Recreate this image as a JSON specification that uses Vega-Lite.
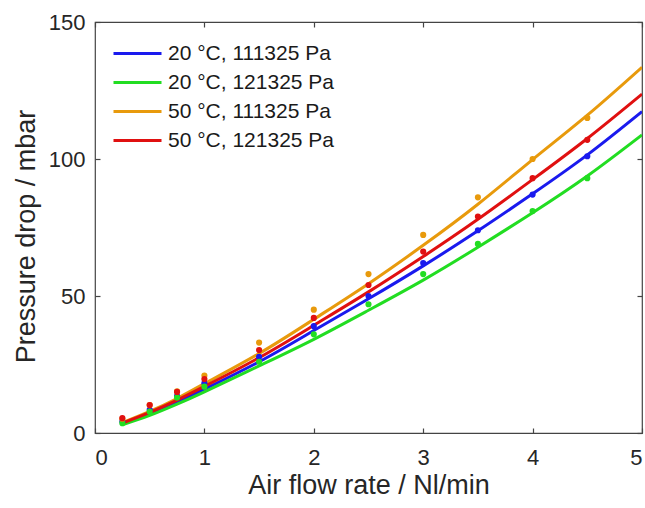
{
  "$schema": "https://vega.github.io/schema/vega-lite/v6.json",
  "width": 547,
  "height": 411,
  "autosize": {"type": "none"},
  "padding": {"left": 95, "top": 22, "right": 3, "bottom": 75},
  "background": "white",
  "config": {
    "font": "Liberation Sans",
    "view": {"stroke": "#444444", "strokeWidth": 1.2},
    "axis": {
      "domain": false,
      "grid": false,
      "tickColor": "#444444",
      "tickSize": -5,
      "tickWidth": 1.2,
      "labelColor": "#262626",
      "titleColor": "#262626",
      "labelFont": "Liberation Sans",
      "titleFont": "Liberation Sans",
      "labelFontSize": 22,
      "titleFontSize": 27,
      "titleFontWeight": "normal"
    }
  },
  "datasets": {
    "lines": [
      {"series": "20 °C, 111325 Pa", "flow": 0.25, "dp": 3.3},
      {"series": "20 °C, 111325 Pa", "flow": 0.5, "dp": 7},
      {"series": "20 °C, 111325 Pa", "flow": 0.75, "dp": 11.2},
      {"series": "20 °C, 111325 Pa", "flow": 1, "dp": 16},
      {"series": "20 °C, 111325 Pa", "flow": 1.5, "dp": 26},
      {"series": "20 °C, 111325 Pa", "flow": 2, "dp": 37.4},
      {"series": "20 °C, 111325 Pa", "flow": 2.5, "dp": 49},
      {"series": "20 °C, 111325 Pa", "flow": 3, "dp": 61},
      {"series": "20 °C, 111325 Pa", "flow": 3.5, "dp": 73.8},
      {"series": "20 °C, 111325 Pa", "flow": 4, "dp": 87.3},
      {"series": "20 °C, 111325 Pa", "flow": 4.5, "dp": 101.5},
      {"series": "20 °C, 111325 Pa", "flow": 5, "dp": 117.3},
      {"series": "20 °C, 121325 Pa", "flow": 0.25, "dp": 3},
      {"series": "20 °C, 121325 Pa", "flow": 0.5, "dp": 6.4},
      {"series": "20 °C, 121325 Pa", "flow": 0.75, "dp": 10.5},
      {"series": "20 °C, 121325 Pa", "flow": 1, "dp": 15},
      {"series": "20 °C, 121325 Pa", "flow": 1.5, "dp": 24.5},
      {"series": "20 °C, 121325 Pa", "flow": 2, "dp": 34.2},
      {"series": "20 °C, 121325 Pa", "flow": 2.5, "dp": 44.8},
      {"series": "20 °C, 121325 Pa", "flow": 3, "dp": 55.8},
      {"series": "20 °C, 121325 Pa", "flow": 3.5, "dp": 67.8},
      {"series": "20 °C, 121325 Pa", "flow": 4, "dp": 80.4},
      {"series": "20 °C, 121325 Pa", "flow": 4.5, "dp": 93.8},
      {"series": "20 °C, 121325 Pa", "flow": 5, "dp": 108.8},
      {"series": "50 °C, 111325 Pa", "flow": 0.25, "dp": 3.8},
      {"series": "50 °C, 111325 Pa", "flow": 0.5, "dp": 7.9},
      {"series": "50 °C, 111325 Pa", "flow": 0.75, "dp": 12.6},
      {"series": "50 °C, 111325 Pa", "flow": 1, "dp": 18},
      {"series": "50 °C, 111325 Pa", "flow": 1.5, "dp": 29},
      {"series": "50 °C, 111325 Pa", "flow": 2, "dp": 41.5},
      {"series": "50 °C, 111325 Pa", "flow": 2.5, "dp": 54.5},
      {"series": "50 °C, 111325 Pa", "flow": 3, "dp": 68.5},
      {"series": "50 °C, 111325 Pa", "flow": 3.5, "dp": 83.5},
      {"series": "50 °C, 111325 Pa", "flow": 4, "dp": 99.8},
      {"series": "50 °C, 111325 Pa", "flow": 4.5, "dp": 116},
      {"series": "50 °C, 111325 Pa", "flow": 5, "dp": 133.5},
      {"series": "50 °C, 121325 Pa", "flow": 0.25, "dp": 3.6},
      {"series": "50 °C, 121325 Pa", "flow": 0.5, "dp": 7.5},
      {"series": "50 °C, 121325 Pa", "flow": 0.75, "dp": 12},
      {"series": "50 °C, 121325 Pa", "flow": 1, "dp": 17},
      {"series": "50 °C, 121325 Pa", "flow": 1.5, "dp": 27.5},
      {"series": "50 °C, 121325 Pa", "flow": 2, "dp": 39.3},
      {"series": "50 °C, 121325 Pa", "flow": 2.5, "dp": 51.5},
      {"series": "50 °C, 121325 Pa", "flow": 3, "dp": 64.4},
      {"series": "50 °C, 121325 Pa", "flow": 3.5, "dp": 78},
      {"series": "50 °C, 121325 Pa", "flow": 4, "dp": 92.5},
      {"series": "50 °C, 121325 Pa", "flow": 4.5, "dp": 107.5},
      {"series": "50 °C, 121325 Pa", "flow": 5, "dp": 123.7}
    ],
    "points": [
      {"series": "20 °C, 111325 Pa", "flow": 0.25, "dp": 4.2},
      {"series": "20 °C, 111325 Pa", "flow": 0.5, "dp": 8.5},
      {"series": "20 °C, 111325 Pa", "flow": 0.75, "dp": 13.5},
      {"series": "20 °C, 111325 Pa", "flow": 1, "dp": 18.2},
      {"series": "20 °C, 111325 Pa", "flow": 1.5, "dp": 27.8},
      {"series": "20 °C, 111325 Pa", "flow": 2, "dp": 39},
      {"series": "20 °C, 111325 Pa", "flow": 2.5, "dp": 50},
      {"series": "20 °C, 111325 Pa", "flow": 3, "dp": 62},
      {"series": "20 °C, 111325 Pa", "flow": 3.5, "dp": 74},
      {"series": "20 °C, 111325 Pa", "flow": 4, "dp": 87},
      {"series": "20 °C, 111325 Pa", "flow": 4.5, "dp": 101},
      {"series": "20 °C, 121325 Pa", "flow": 0.25, "dp": 3.6},
      {"series": "20 °C, 121325 Pa", "flow": 0.5, "dp": 7.8},
      {"series": "20 °C, 121325 Pa", "flow": 0.75, "dp": 13},
      {"series": "20 °C, 121325 Pa", "flow": 1, "dp": 16.9},
      {"series": "20 °C, 121325 Pa", "flow": 1.5, "dp": 26},
      {"series": "20 °C, 121325 Pa", "flow": 2, "dp": 36},
      {"series": "20 °C, 121325 Pa", "flow": 2.5, "dp": 47},
      {"series": "20 °C, 121325 Pa", "flow": 3, "dp": 58},
      {"series": "20 °C, 121325 Pa", "flow": 3.5, "dp": 69},
      {"series": "20 °C, 121325 Pa", "flow": 4, "dp": 81},
      {"series": "20 °C, 121325 Pa", "flow": 4.5, "dp": 93},
      {"series": "50 °C, 111325 Pa", "flow": 0.25, "dp": 5.2},
      {"series": "50 °C, 111325 Pa", "flow": 0.5, "dp": 10.2},
      {"series": "50 °C, 111325 Pa", "flow": 0.75, "dp": 15.2},
      {"series": "50 °C, 111325 Pa", "flow": 1, "dp": 21},
      {"series": "50 °C, 111325 Pa", "flow": 1.5, "dp": 33},
      {"series": "50 °C, 111325 Pa", "flow": 2, "dp": 45},
      {"series": "50 °C, 111325 Pa", "flow": 2.5, "dp": 58},
      {"series": "50 °C, 111325 Pa", "flow": 3, "dp": 72.3},
      {"series": "50 °C, 111325 Pa", "flow": 3.5, "dp": 86},
      {"series": "50 °C, 111325 Pa", "flow": 4, "dp": 100},
      {"series": "50 °C, 111325 Pa", "flow": 4.5, "dp": 115},
      {"series": "50 °C, 121325 Pa", "flow": 0.25, "dp": 5.4},
      {"series": "50 °C, 121325 Pa", "flow": 0.5, "dp": 10.2},
      {"series": "50 °C, 121325 Pa", "flow": 0.75, "dp": 15},
      {"series": "50 °C, 121325 Pa", "flow": 1, "dp": 19.7},
      {"series": "50 °C, 121325 Pa", "flow": 1.5, "dp": 30.3},
      {"series": "50 °C, 121325 Pa", "flow": 2, "dp": 42},
      {"series": "50 °C, 121325 Pa", "flow": 2.5, "dp": 54},
      {"series": "50 °C, 121325 Pa", "flow": 3, "dp": 66.2},
      {"series": "50 °C, 121325 Pa", "flow": 3.5, "dp": 79},
      {"series": "50 °C, 121325 Pa", "flow": 4, "dp": 93},
      {"series": "50 °C, 121325 Pa", "flow": 4.5, "dp": 107}
    ]
  },
  "layer": [
    {
      "data": {"name": "lines"},
      "mark": {"type": "line", "strokeWidth": 3, "interpolate": "natural", "clip": true},
      "encoding": {
        "x": {
          "field": "flow", "type": "quantitative",
          "scale": {"domain": [0, 5], "nice": false},
          "axis": {"orient": "bottom", "values": [0, 1, 2, 3, 4, 5], "title": "Air flow rate / Nl/min", "labelPadding": 19, "titlePadding": 4}
        },
        "y": {
          "field": "dp", "type": "quantitative",
          "scale": {"domain": [0, 150], "nice": false},
          "axis": {"orient": "left", "values": [0, 50, 100, 150], "title": "Pressure drop / mbar", "labelPadding": 15, "titlePadding": 8, "titleY": 214}
        },
        "color": {
          "field": "series", "type": "nominal",
          "scale": {
            "domain": ["20 °C, 111325 Pa", "20 °C, 121325 Pa", "50 °C, 111325 Pa", "50 °C, 121325 Pa"],
            "range": ["#1a1aee", "#22dd22", "#e89a0c", "#e01010"]
          },
          "legend": {
            "title": null,
            "orient": "none",
            "legendX": 29,
            "legendY": 18,
            "padding": 0,
            "symbolType": "M-2,0H2",
            "symbolSize": 576,
            "symbolStrokeWidth": 3,
            "labelFontSize": 21,
            "labelFont": "Liberation Sans",
            "labelColor": "#1a1a1a",
            "labelOffset": 17,
            "labelLimit": 400,
            "rowPadding": 5
          }
        }
      }
    },
    {
      "data": {"name": "points"},
      "mark": {"type": "circle", "size": 38, "opacity": 1},
      "encoding": {
        "x": {
          "field": "flow", "type": "quantitative",
          "axis": {"orient": "top", "values": [0, 1, 2, 3, 4, 5], "labels": false, "title": null}
        },
        "y": {
          "field": "dp", "type": "quantitative",
          "axis": {"orient": "right", "values": [0, 50, 100, 150], "labels": false, "title": null}
        },
        "color": {"field": "series", "type": "nominal", "legend": null}
      }
    }
  ],
  "resolve": {"axis": {"x": "independent", "y": "independent"}}
}
